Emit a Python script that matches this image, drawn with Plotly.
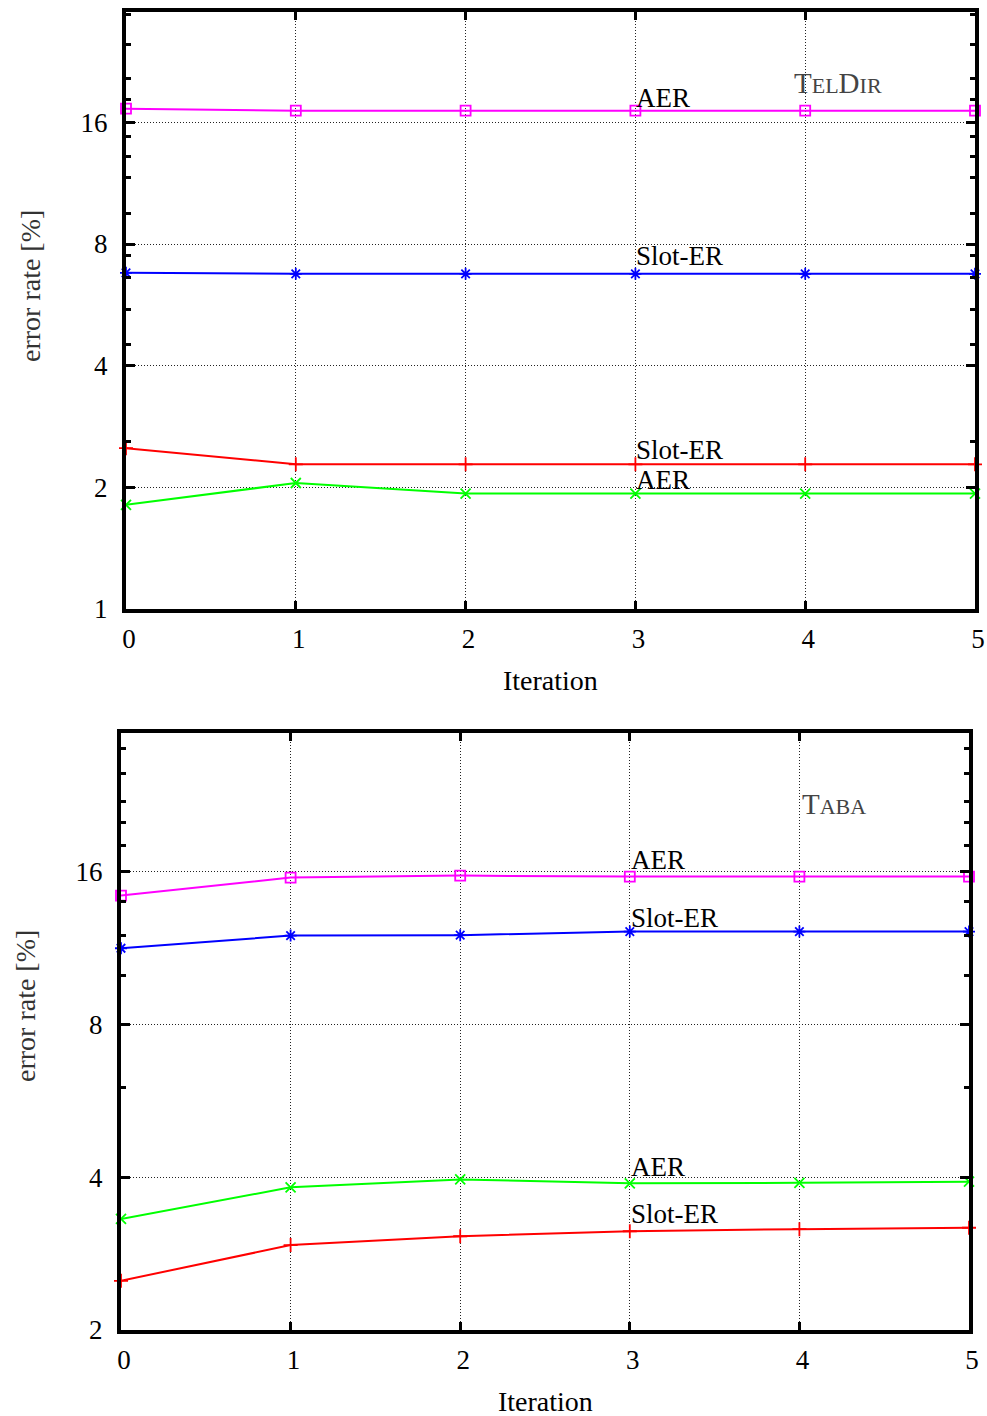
import plotly.graph_objects as go
import math

W, H = 987, 1416

iterations = [0, 1, 2, 3, 4, 5]

# TelDir (top panel)
tel_aer_word = [17.3, 17.1, 17.1, 17.1, 17.1, 17.1]      # magenta squares
tel_slot_word = [6.79, 6.75, 6.75, 6.75, 6.75, 6.75]     # blue asterisks
tel_slot_class = [2.50, 2.28, 2.28, 2.28, 2.28, 2.28]    # red plus
tel_aer_class = [1.81, 2.05, 1.93, 1.93, 1.93, 1.93]     # green x

# Taba (bottom panel)
taba_aer_word = [14.35, 15.57, 15.71, 15.64, 15.64, 15.64]
taba_slot_word = [11.3, 11.97, 11.99, 12.19, 12.19, 12.19]
taba_aer_class = [3.31, 3.82, 3.96, 3.89, 3.90, 3.92]
taba_slot_class = [2.50, 2.94, 3.06, 3.13, 3.16, 3.18]

top_yticks = [1, 2, 4, 8, 16]
bot_yticks = [2, 4, 8, 16]
top_minor = [2.6, 4.5, 5.5, 6.6, 7.5, 9.5, 11.7, 13.2, 14.8, 18.2, 20.5, 25, 29.5]
bot_minor = [6, 10, 12, 14, 18, 20, 22, 25, 28]
y_max = 30

# label positions (value space)
top_labels = [("AER", 18.4), ("Slot-ER", 7.47), ("Slot-ER", 2.48), ("AER", 2.09)]
bot_labels = [("AER", 16.9), ("Slot-ER", 12.99), ("AER", 4.18), ("Slot-ER", 3.38)]

MAG, BLU, GRN, RED = "#ff00ff", "#0000ff", "#00ff00", "#ff0000"
SERIF = "Liberation Serif"

def px(x):
    return x / W

def py(y):
    return 1 - y / H

fig = go.Figure()

def add_series(y, color, symbol, size, xa, ya):
    fig.add_trace(go.Scatter(
        x=iterations, y=y, mode="lines+markers",
        line=dict(color=color, width=2),
        marker=dict(symbol=symbol, size=size, color=color,
                    line=dict(color=color, width=1.8)),
        cliponaxis=False, showlegend=False, xaxis=xa, yaxis=ya))

add_series(tel_aer_word, MAG, "square-open", 10, "x", "y")
add_series(tel_slot_word, BLU, "asterisk-open", 10, "x", "y")
add_series(tel_slot_class, RED, "cross-thin-open", 10, "x", "y")
add_series(tel_aer_class, GRN, "x-thin-open", 10, "x", "y")

add_series(taba_aer_word, MAG, "square-open", 10, "x2", "y2")
add_series(taba_slot_word, BLU, "asterisk-open", 10, "x2", "y2")
add_series(taba_aer_class, GRN, "x-thin-open", 10, "x2", "y2")
add_series(taba_slot_class, RED, "cross-thin-open", 10, "x2", "y2")

GRID_DASH = "1px,2px"

def xaxis(domain, anchor):
    return dict(domain=domain, anchor=anchor, range=[0, 5], automargin=False,
                tickvals=iterations, ticks="inside", ticklen=8, tickwidth=3,
                tickcolor="black", showline=True, linewidth=4, linecolor="black",
                mirror="allticks", showgrid=True, gridcolor="#222222", gridwidth=1,
                griddash=GRID_DASH, zeroline=False, ticklabelstandoff=3,
                ticklabelshift=3,
                tickfont=dict(family=SERIF, size=27, color="black"))

def yaxis(domain, anchor, lo, ticks, minor):
    return dict(domain=domain, anchor=anchor, type="log", automargin=False,
                range=[math.log10(lo), math.log10(y_max)],
                tickvals=ticks, ticktext=[str(t) for t in ticks],
                ticks="inside", ticklen=9, tickwidth=3, tickcolor="black",
                showline=True, linewidth=4, linecolor="black", mirror="allticks",
                showgrid=True, gridcolor="#222222", gridwidth=1, griddash=GRID_DASH,
                zeroline=False, ticklabelstandoff=9,
                minor=dict(tickvals=minor, ticks="inside", ticklen=5, tickwidth=3,
                           tickcolor="black", showgrid=False),
                tickfont=dict(family=SERIF, size=27, color="black"))

top_x = [px(126), px(975)]
top_y = [py(609), py(12)]
bot_x = [px(121), px(969)]
bot_y = [py(1330), py(733)]

fig.update_layout(
    template="none",
    width=W, height=H, margin=dict(l=0, r=0, t=0, b=0, autoexpand=False),
    paper_bgcolor="white", plot_bgcolor="white",
    xaxis=xaxis(top_x, "y"), yaxis=yaxis(top_y, "x", 1, top_yticks, top_minor),
    xaxis2=xaxis(bot_x, "y2"), yaxis2=yaxis(bot_y, "x2", 2, bot_yticks, bot_minor),
)

ann = []
for text, v in top_labels:
    ann.append(dict(x=3, y=math.log10(v), xref="x", yref="y", text=text,
                    showarrow=False, xanchor="left", yanchor="middle", xshift=-1,
                    font=dict(family=SERIF, size=27, color="black")))
for text, v in bot_labels:
    ann.append(dict(x=3, y=math.log10(v), xref="x2", yref="y2", text=text,
                    showarrow=False, xanchor="left", yanchor="middle", xshift=-1,
                    font=dict(family=SERIF, size=27, color="black")))

sc = "font-size:22px"
ann.append(dict(x=px(792), y=py(83), xref="paper", yref="paper",
                text=f"T<span style='{sc}'>EL</span>D<span style='{sc}'>IR</span>",
                showarrow=False, xanchor="left", yanchor="middle",
                font=dict(family=SERIF, size=29, color="#444444")))
ann.append(dict(x=px(800), y=py(804), xref="paper", yref="paper",
                text=f"T<span style='{sc}'>ABA</span>",
                showarrow=False, xanchor="left", yanchor="middle",
                font=dict(family=SERIF, size=29, color="#444444")))

for cx, cy in ((550, 681), (545, 1401)):
    ann.append(dict(x=px(cx), y=py(cy), xref="paper", yref="paper",
                    text="Iteration", showarrow=False,
                    xanchor="center", yanchor="middle",
                    font=dict(family=SERIF, size=28, color="black")))
for cx, cy in ((30, 286), (25, 1006)):
    ann.append(dict(x=px(cx), y=py(cy), xref="paper", yref="paper",
                    text="error rate [%]", showarrow=False, textangle=-90,
                    xanchor="center", yanchor="middle",
                    font=dict(family=SERIF, size=28, color="#333333")))

fig.update_layout(annotations=ann)
fig.write_html("out.html", config={"displayModeBar": False},
               post_script="document.body.style.margin='0px';document.body.style.overflow='hidden';")
